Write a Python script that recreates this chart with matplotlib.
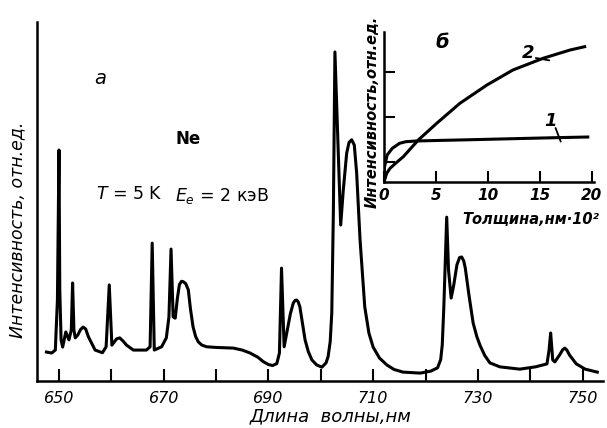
import matplotlib.pyplot as plt
import numpy as np

# Спектр Ne (а): длина волны, нм и интенсивность, отн. ед.
wavelength = [647.6, 648.6, 649.3, 649.7, 650.0, 650.15, 650.4, 650.7, 651.3, 651.9,
              652.35, 652.6, 652.85, 653.1, 653.6, 654.1, 654.6, 655.1, 655.6, 656.1,
              656.9, 658.3, 659.0, 659.6, 660.1, 661.0, 661.6, 662.2, 662.9, 664.2,
              666.7, 667.4, 667.8, 668.2, 669.6, 670.5, 671.0, 671.4, 671.8, 672.2,
              672.6, 673.0, 673.4, 673.7, 674.2, 674.7, 675.1, 675.6, 676.1, 676.6, 677.3,
              678.2, 680.0, 683.3, 685.0, 686.5, 688.0, 689.0, 690.0, 690.8, 691.6,
              692.1, 692.5, 693.0, 693.6, 694.2, 694.75, 695.1, 695.4, 695.7, 696.0, 696.5, 697.0,
              697.6, 698.3, 699.2, 700.2, 701.0, 701.4, 701.8, 702.1, 702.4, 702.7,
              703.8, 704.3, 704.95, 705.4, 705.9, 706.4, 706.85, 707.5, 708.4, 709.2,
              710.0, 711.2, 712.6, 714.0, 715.7, 719.0, 721.0, 722.3, 722.9, 723.2,
              723.5, 724.05, 724.4, 724.9, 725.4, 726.0, 726.5, 726.9, 727.3, 727.6, 728.3, 729.1,
              729.8, 730.4, 731.3, 732.3, 734.2, 738.0, 741.0, 743.2, 743.6, 743.9,
              744.3, 744.7, 745.6, 746.2, 746.6, 747.0, 747.5, 748.8, 750.5, 752.8]
intensity = [8.8, 8.5, 9.4, 24.6, 70.2, 27.7, 12.5, 10.3, 14.9, 12.5,
             15.5, 29.8, 15.5, 13.1, 14.0, 15.6, 16.4, 15.8, 13.5, 11.9,
             9.4, 8.6, 10.4, 29.2, 10.9, 12.8, 13.1, 12.2, 10.9, 9.4,
             9.4, 10.4, 41.9, 9.4, 10.4, 13.1, 19.5, 40.1, 19.5, 19.1,
             25.0, 29.3, 30.3, 30.2, 29.6, 27.7, 22.0, 16.5, 13.5, 11.9, 10.9,
             10.4, 10.2, 10.0, 9.4, 8.5, 7.2, 5.9, 5.0, 4.7, 5.3,
             8.5, 34.3, 10.4, 15.5, 20.5, 23.7, 24.5, 24.6, 24.0, 22.6, 17.5, 12.5,
             9.0, 6.4, 4.9, 4.2, 5.5, 7.4, 12.0, 20.7, 51.1, 100.0,
             47.4, 58.1, 69.3, 72.5, 73.3, 71.7, 63.2, 42.9, 22.5, 14.5,
             10.3, 7.0, 4.9, 3.5, 2.7, 2.4, 3.0, 4.0, 6.5, 11.0,
             22.5, 49.8, 33.7, 25.2, 29.2, 35.3, 37.5, 37.7, 36.5, 34.3, 26.1, 17.6,
             13.5, 10.9, 7.8, 5.5, 4.3, 3.6, 4.3, 5.2, 9.4, 14.6,
             6.4, 5.8, 7.9, 9.5, 10.0, 9.4, 7.9, 5.2, 3.6, 2.7]

# Вставка (б): толщина, нм*10^2 и интенсивность, отн. ед.
thick_1 = [0, 0.05, 0.3, 0.8, 1.5, 2.1, 3.1, 5, 8, 12, 16, 19.6]
inten_1 = [0, 15, 27, 33.7, 38.7, 40.3, 41, 41.5, 42.2, 43.2, 44.2, 45]
thick_2 = [0, 0.26, 0.58, 1.2, 1.86, 3.3, 5.07, 7.3, 9.9, 12.4, 15.3, 17.9, 19.3]
inten_2 = [0, 8.7, 13.7, 19.5, 25.3, 42, 58.7, 78.7, 97, 112, 123.7, 132, 135.3]

main_ticks = list(range(650, 751, 10))
main_labels = [str(t) if (t - 650) % 20 == 0 else '' for t in main_ticks]
inset_xticks = [0, 5, 10, 15, 20]
inset_yticks = [20, 65, 110]

W, H = 607, 428


def fpos(x, y):
    # пиксели картинки -> координаты фигуры
    return x / W, 1 - y / H


fig = plt.figure(figsize=(W / 100, H / 100), dpi=100)

# основной график
ax = fig.add_axes([37 / W, 47 / H, 566 / W, 359 / H])
ax.plot(wavelength, intensity, color='k', lw=2.2, solid_joinstyle='round')
ax.set_xlim(645.8, 753.9)
ax.set_ylim(0, 109.1)
ax.spines['top'].set_visible(False)
ax.spines['right'].set_visible(False)
for s in ('left', 'bottom'):
    ax.spines[s].set_linewidth(1.8)
ax.set_yticks([])
ax.set_xticks(main_ticks)
ax.set_xticklabels(main_labels, fontstyle='italic', fontsize=11.5)
ax.tick_params(axis='x', direction='in', length=9, width=1.5, pad=7)

fig.text(*fpos(331, 416), 'Длина  волны,нм', ha='center', va='center',
         style='italic', fontsize=13)
fig.text(*fpos(17, 230), 'Интенсивность, отн.ед.', ha='center', va='center',
         rotation=90, style='italic', fontsize=12.5)
fig.text(*fpos(100, 78), 'а', ha='center', va='center', style='italic', fontsize=14)
fig.text(*fpos(188, 139), 'Ne', ha='center', va='center', fontweight='bold', fontsize=12)
fig.text(*fpos(129, 194), '$T$ = 5 K', ha='center', va='center', fontsize=12.5)
fig.text(*fpos(222, 196), '$E_e$ = 2 кэВ', ha='center', va='center', fontsize=12.5)

# вставка б
axin = fig.add_axes([384 / W, (H - 182) / H, 210 / W, 150 / H])
axin.patch.set_alpha(0)
axin.plot(thick_1, inten_1, color='k', lw=2.2)
axin.plot(thick_2, inten_2, color='k', lw=2.2)
axin.set_xlim(0, 20.2)
axin.set_ylim(0, 150)
axin.spines['top'].set_visible(False)
axin.spines['right'].set_visible(False)
for s in ('left', 'bottom'):
    axin.spines[s].set_linewidth(1.8)
axin.set_xticks(inset_xticks)
axin.set_xticklabels([str(t) for t in inset_xticks], fontstyle='italic',
                     fontweight='bold', fontsize=11)
axin.set_yticks(inset_yticks)
axin.set_yticklabels([])
axin.tick_params(direction='in', length=8, width=1.5, pad=4)

# номера кривых с выносками
axin.text(13.9, 129, '2', ha='center', va='center', style='italic',
          fontweight='bold', fontsize=13)
axin.annotate('', xy=(15.9, np.interp(15.9, thick_2, inten_2) - 4), xytext=(14.6, 124),
              arrowprops=dict(arrowstyle='-', lw=1.3, shrinkA=0, shrinkB=0))
axin.text(16.0, 61, '1', ha='center', va='center', style='italic',
          fontweight='bold', fontsize=13)
axin.annotate('', xy=(17.0, np.interp(17.0, thick_1, inten_1) - 4), xytext=(16.5, 54),
              arrowprops=dict(arrowstyle='-', lw=1.3, shrinkA=0, shrinkB=0))

fig.text(*fpos(442, 43), 'б', ha='center', va='center', style='italic',
         fontweight='bold', fontsize=14)
fig.text(*fpos(531, 220), 'Толщина,нм·10²', ha='center', va='center',
         style='italic', fontweight='bold', fontsize=10.5)
fig.text(*fpos(372, 112), 'Интенсивность,отн.ед.', ha='center', va='center',
         rotation=90, style='italic', fontweight='bold', fontsize=10.5)

fig.savefig('out.png', dpi=100)
